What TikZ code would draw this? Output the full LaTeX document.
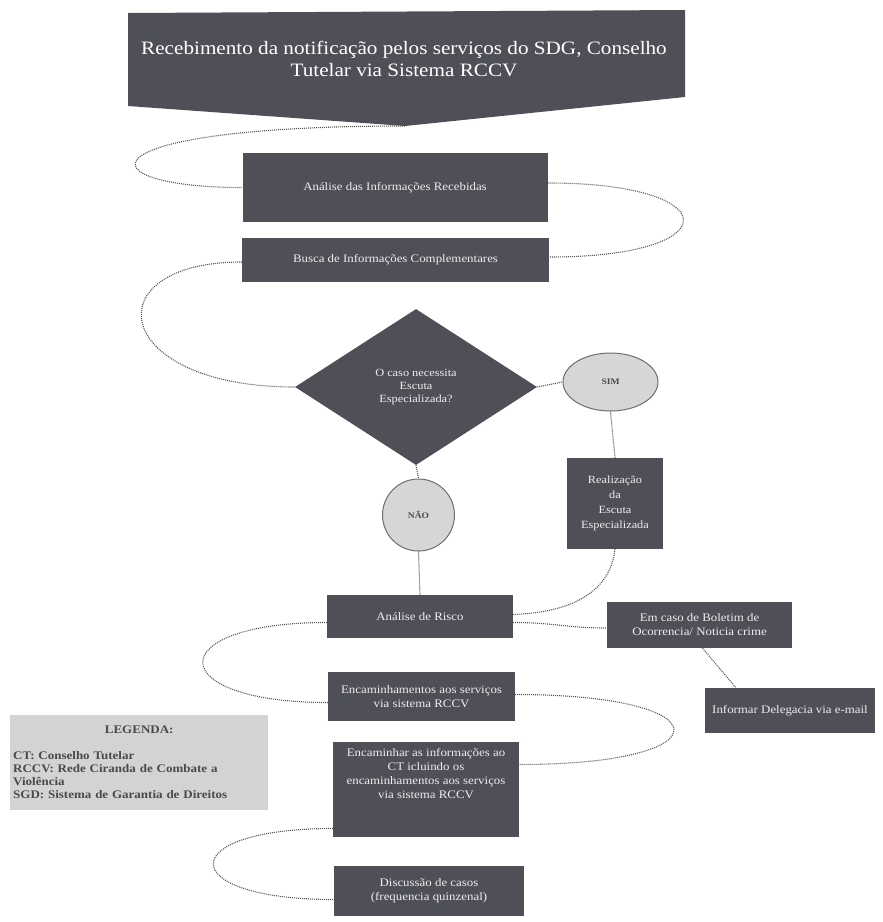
\documentclass[tikz,border=0pt]{standalone}
\usepackage{fontspec}
\setmainfont{Liberation Serif}[FakeStretch=1.12]
\usetikzlibrary{shapes.geometric}
\definecolor{boxgray}{HTML}{4F4F57}
\definecolor{txtlight}{HTML}{EDEDED}
\definecolor{ovalfill}{HTML}{D6D6D6}
\definecolor{ovaldraw}{HTML}{6E6E6E}
\definecolor{dotgray}{HTML}{555555}
\definecolor{legfill}{HTML}{D3D3D3}
\definecolor{legtext}{HTML}{4A4A4A}
\tikzset{
  darkbox/.style={rectangle, fill=boxgray, text=txtlight, inner sep=0pt, align=center,
    font=\fontsize{11.5}{14}\selectfont},
  conn/.style={draw=dotgray, line width=1.1pt, dash pattern=on 1pt off 1pt},
  oval/.style={ellipse, fill=ovalfill, draw=ovaldraw, line width=1pt, inner sep=0pt,
    text=legtext, font=\bfseries\fontsize{8.5}{10}\selectfont},
  legendbox/.style={rectangle, fill=legfill, text=legtext, inner xsep=3pt, inner ysep=11pt,
    align=left, text width=252pt, font=\bfseries\fontsize{11.6}{13.2}\selectfont}
}
\begin{document}
\begin{tikzpicture}[x=1pt,y=-1pt]
\useasboundingbox (0,0) rectangle (883,922);
% title arrow shape
\fill[boxgray] (128,13) -- (685,10) -- (685,97) -- (405,126) -- (128,106) -- cycle;
\coordinate (tip) at (405,126);
\node[text=white, align=center, font=\fontsize{18.9}{22}\selectfont] (title) at (404,59)
  {Recebimento da notificação pelos serviços do SDG, Conselho\\Tutelar via Sistema RCCV};

\node[darkbox, minimum width=305pt, minimum height=69pt] (ana) at (395,187.5) {Análise das Informações Recebidas};
\node[darkbox, minimum width=307pt, minimum height=44pt] (busca) at (395.5,260) {Busca de Informações Complementares};
\node[diamond, fill=boxgray, text=txtlight, minimum width=242pt, minimum height=156pt, inner sep=0pt,
  align=center, font=\fontsize{11}{13}\selectfont] (dec) at (416,387) {O caso necessita\\Escuta\\Especializada?};
\node[oval, minimum width=95pt, minimum height=58pt] (sim) at (610.5,382) {SIM};
\node[darkbox, minimum width=96pt, minimum height=91pt, font=\fontsize{11}{15}\selectfont] (real) at (615,503.5)
  {Realização\\da\\Escuta\\Especializada};
\node[oval, circle, minimum size=72pt] (nao) at (418.5,515) {NÃO};
\node[darkbox, minimum width=186pt, minimum height=43pt] (risco) at (420,616.5) {Análise de Risco};
\node[darkbox, minimum width=185pt, minimum height=46pt] (bo) at (699.5,625) {Em caso de Boletim de\\Ocorrencia/ Noticia crime};
\node[darkbox, minimum width=170pt, minimum height=45pt] (deleg) at (790,710.5) {Informar Delegacia via e-mail};
\node[darkbox, minimum width=187pt, minimum height=49pt] (enc1) at (421.5,696.5) {Encaminhamentos aos serviços\\via sistema RCCV};
\node[darkbox, minimum width=186pt, minimum height=95pt, text depth=32pt] (enc2) at (426,789.5)
  {Encaminhar as informações ao\\CT icluindo os\\encaminhamentos aos serviços\\via sistema RCCV};
\node[darkbox, minimum width=190pt, minimum height=50pt] (disc) at (429,890.5) {Discussão de casos\\(frequencia quinzenal)};
\node[legendbox, anchor=north west] (leg) at (10,715)
  {\makebox[252pt][c]{LEGENDA:}\\[12pt]
   CT: Conselho Tutelar\\
   RCCV: Rede Ciranda de Combate a\\
   Violência\\
   SGD: Sistema de Garantia de Direitos};

% connectors
\draw[conn] (tip) .. controls +(-330,0) and +(-160,0) .. (ana.west);
\draw[conn] ([yshift=4.5pt]ana.east) .. controls +(180,0) and +(180,0) .. ([yshift=3pt]busca.east);
\draw[conn] ([yshift=-2pt]busca.west) .. controls +(-150,0) and +(-185,0) .. (dec.west);
\draw[conn] (dec.east) -- (sim.west);
\draw[conn] (sim.south) -- (real.north);
\draw[conn] (dec.south) -- (nao.north);
\draw[conn] (nao.south) -- (risco.north);
\draw[conn] (real.south) .. controls +(-5,45) and +(55,-2) .. ([yshift=2pt]risco.east);
\draw[conn] ([yshift=-6pt]risco.east) .. controls +(40,0) and +(-40,0) .. ([yshift=-3pt]bo.west);
\draw[conn] ([xshift=3pt]bo.south) -- ([xshift=-54pt]deleg.north);
\draw[conn] ([yshift=-6pt]risco.west) .. controls +(-166,0) and +(-166,0) .. ([yshift=-6pt]enc1.west);
\draw[conn] ([yshift=2pt]enc1.east) .. controls +(209,0) and +(209,0) .. ([yshift=25pt]enc2.east);
\draw[conn] ([yshift=-39pt]enc2.west) .. controls +(-160,0) and +(-160,0) .. ([yshift=-9pt]disc.west);
\end{tikzpicture}
\end{document}
